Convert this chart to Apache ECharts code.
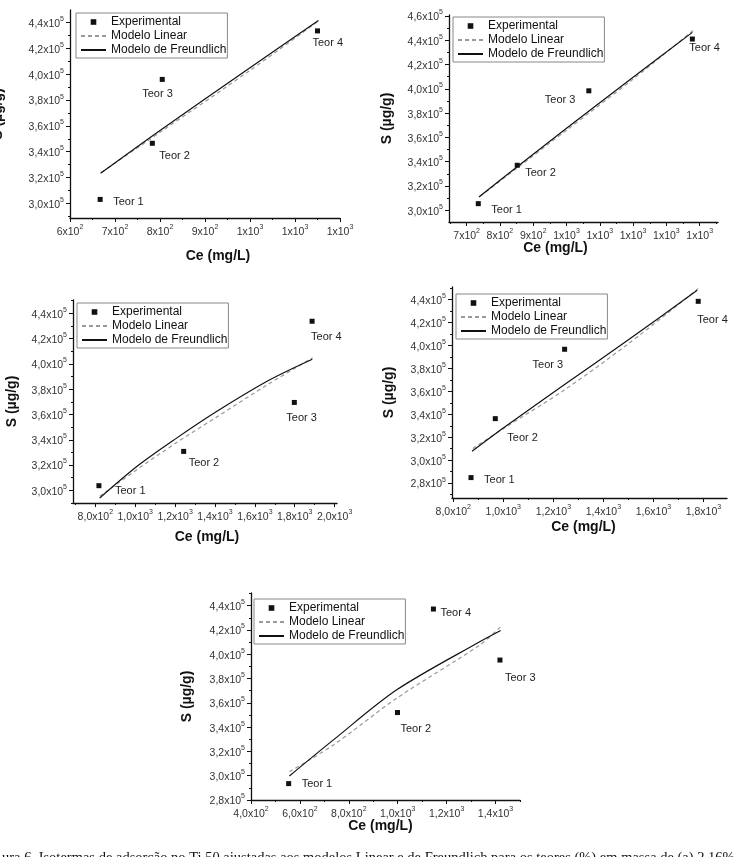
<!DOCTYPE html>
<html>
<head>
<meta charset="utf-8">
<title>Isotermas</title>
<script src="https://cdn.jsdelivr.net/npm/echarts@6/dist/echarts.min.js"></script>
<style>
  html, body { margin: 0; padding: 0; background: #fff; }
  #chart { width: 737px; height: 857px; }
</style>
</head>
<body>
<div id="chart"></div>
<script>
// valores (Ce em mg/L, S em µg/g)
const teorNames = ['Teor 1', 'Teor 2', 'Teor 3', 'Teor 4'];
const seriesNames = ['Experimental', 'Modelo Linear', 'Modelo de Freundlich'];

// painel (a)
const aCe = [667, 783, 805, 1150];
const aS = [303000, 346500, 396000, 433600];
const aLinCe = [670, 800, 1000, 1155];
const aLinS = [324000, 355000, 403000, 442000];
const aFreCe = [668, 800, 1000, 1152];
const aFreS = [323300, 356500, 405000, 441600];
const aXTicks = [600, 700, 800, 900, 1000, 1100, 1200];
const aYTicks = [300000, 320000, 340000, 360000, 380000, 400000, 420000, 440000];

// painel (b)
const bCe = [735, 852, 1067, 1378];
const bS = [305500, 337100, 398400, 441000];
const bLinCe = [740, 850, 1000, 1200, 1380];
const bLinS = [311500, 334500, 366000, 408000, 448000];
const bFreCe = [737, 850, 1000, 1200, 1378];
const bFreS = [311000, 335500, 367500, 409500, 446500];
const bXTicks = [700, 800, 900, 1000, 1100, 1200, 1300, 1400];
const bYTicks = [300000, 320000, 340000, 360000, 380000, 400000, 420000, 440000, 460000];

// painel (c)
const cCe = [818, 1243, 1798, 1887];
const cS = [303700, 330800, 369500, 433700];
const cLinCe = [822, 1008, 1200, 1408, 1675, 1890];
const cLinS = [295300, 316300, 337000, 357900, 384700, 404800];
const cFreCe = [822, 1008, 1200, 1408, 1675, 1888];
const cFreS = [294000, 318900, 340500, 362300, 387400, 403700];
const cXTicks = [800, 1000, 1200, 1400, 1600, 1800, 2000];
const cYTicks = [300000, 320000, 340000, 360000, 380000, 400000, 420000, 440000];

// painel (d)
const dCe = [871, 968, 1245, 1779];
const dS = [284800, 336200, 396700, 438500];
const dLinCe = [878, 1000, 1242, 1500, 1779];
const dLinS = [310100, 327500, 360900, 401500, 449600];
const dFreCe = [875, 1000, 1242, 1500, 1775];
const dFreS = [307700, 328000, 365500, 405000, 448100];
const dXTicks = [800, 1000, 1200, 1400, 1600, 1800];
const dYTicks = [280000, 300000, 320000, 340000, 360000, 380000, 400000, 420000, 440000];

// painel (e)
const eCe = [554, 999, 1418, 1146];
const eS = [293500, 352000, 395200, 437200];
const eLinCe = [557, 737, 996, 1337, 1425];
const eLinS = [303300, 325300, 363800, 407800, 423400];
const eFreCe = [557, 737, 996, 1337, 1421];
const eFreS = [299800, 329500, 370700, 410500, 419600];
const eXTicks = [400, 600, 800, 1000, 1200, 1400];
const eYTicks = [280000, 300000, 320000, 340000, 360000, 380000, 400000, 420000, 440000];

const caption = 'ura 6. Isotermas de adsorção no Ti 50 ajustadas aos modelos Linear e de Freundlich para os teores (%) em massa de (a) 2,16%';

const FONT = '"Liberation Sans", Arial, sans-serif';

// layout de cada painel
const panels = [
  { ce: aCe, s: aS, linCe: aLinCe, linS: aLinS, freCe: aFreCe, freS: aFreS, xTicks: aXTicks, yTicks: aYTicks,
    grid: [70, 10, 270, 208], xRange: [600, 1200], yRange: [288600, 449800], xDec: 0,
    shifts: [[13, 3], [7, 13], [-20, 15], [-5, 12]], legend: [76, 13],
    xNameGap: 31, xNameShift: 13, yNameGap: 65 },
  { ce: bCe, s: bS, linCe: bLinCe, linS: bLinS, freCe: bFreCe, freS: bFreS, xTicks: bXTicks, yTicks: bYTicks,
    grid: [449, 15, 269, 207], xRange: [647, 1455], yRange: [290400, 460800], xDec: 0,
    shifts: [[13, 6], [8, 8], [-44, 9], [-3, 9]], legend: [453, 17],
    xNameGap: 19, xNameShift: -28, yNameGap: 55 },
  { ce: cCe, s: cS, linCe: cLinCe, linS: cLinS, freCe: cFreCe, freS: cFreS, xTicks: cXTicks, yTicks: cYTicks,
    grid: [73, 300, 264, 203], xRange: [688, 2012], yRange: [290000, 450500], xDec: 1,
    shifts: [[16, 5], [5, 12], [-8, 16], [-1, 16]], legend: [77, 303],
    xNameGap: 27, xNameShift: 2, yNameGap: 54 },
  { ce: dCe, s: dS, linCe: dLinCe, linS: dLinS, freCe: dFreCe, freS: dFreS, xTicks: dXTicks, yTicks: dYTicks,
    grid: [452, 287, 275, 211], xRange: [795, 1894], yRange: [267000, 451000], xDec: 1,
    shifts: [[13, 2], [12, 19], [-32, 16], [-1, 19]], legend: [456, 294],
    xNameGap: 22, xNameShift: -6, yNameGap: 56 },
  { ce: eCe, s: eS, linCe: eLinCe, linS: eLinS, freCe: eFreCe, freS: eFreS, xTicks: eXTicks, yTicks: eYTicks,
    grid: [251, 593, 269, 207], xRange: [400, 1500], yRange: [280000, 450400], xDec: 1,
    shifts: [[13, 0], [3, 16], [5, 18], [7, 4]], legend: [254, 599],
    xNameGap: 19, xNameShift: -5, yNameGap: 57 }
];

function sciLabel(v, dec) {
  const e = Math.floor(Math.log10(v) + 1e-9);
  const m = (v / Math.pow(10, e)).toFixed(dec).replace('.', ',');
  return '{m|' + m + 'x10}{e|' + e + '}';
}

// um tick menor entre cada par de ticks maiores
function minorTicks(ticks, range) {
  const step = ticks[1] - ticks[0];
  const out = [];
  for (let v = ticks[0] - step / 2; v <= range[1]; v += step) {
    if (v >= range[0]) out.push(v);
  }
  return out;
}

const labelRich = {
  m: { fontSize: 10.5, lineHeight: 14, verticalAlign: 'bottom', color: '#333', fontFamily: FONT },
  e: { fontSize: 7, lineHeight: 7, verticalAlign: 'top', color: '#333', fontFamily: FONT }
};
const axisLine = { show: true, onZero: false, lineStyle: { color: '#111', width: 1.3 } };

// legenda: só a linha para os modelos, sem o círculo
const legendData = [
  { name: seriesNames[0] },
  { name: seriesNames[1], itemStyle: { opacity: 0 } },
  { name: seriesNames[2], itemStyle: { opacity: 0 } }
];

const option = {
  animation: false,
  backgroundColor: '#fff',
  title: {
    text: caption, left: -3, top: 846,
    textStyle: { fontFamily: '"Liberation Serif", "Times New Roman", serif', fontSize: 14.5, fontWeight: 'normal', color: '#111' }
  },
  grid: [], xAxis: [], yAxis: [], legend: [], series: []
};

panels.forEach(function (p) {
  const gi = option.grid.length;
  option.grid.push({ left: p.grid[0], top: p.grid[1], width: p.grid[2], height: p.grid[3], outerBoundsMode: 'none' });

  const xi = option.xAxis.length;
  const xPad = p.xNameShift >= 0 ? [0, 0, 0, 2 * p.xNameShift] : [0, -2 * p.xNameShift, 0, 0];
  option.xAxis.push({
    type: 'value', gridIndex: gi, position: 'bottom', min: p.xRange[0], max: p.xRange[1],
    name: 'Ce (mg/L)', nameLocation: 'middle', nameGap: p.xNameGap, nameMoveOverlap: false,
    nameTextStyle: { fontFamily: FONT, fontSize: 14, fontWeight: 'bold', color: '#111', padding: xPad },
    axisLine: axisLine, splitLine: { show: false },
    axisTick: { show: true, length: 4, customValues: p.xTicks, lineStyle: { color: '#111' } },
    axisLabel: { margin: 6, customValues: p.xTicks, formatter: function (v) { return sciLabel(v, p.xDec); }, rich: labelRich }
  });
  option.xAxis.push({
    type: 'value', gridIndex: gi, position: 'bottom', min: p.xRange[0], max: p.xRange[1],
    axisLine: { show: false, onZero: false }, splitLine: { show: false }, axisLabel: { show: false },
    axisTick: { show: true, length: 2, customValues: minorTicks(p.xTicks, p.xRange), lineStyle: { color: '#111' } }
  });

  const yi = option.yAxis.length;
  option.yAxis.push({
    type: 'value', gridIndex: gi, position: 'left', min: p.yRange[0], max: p.yRange[1],
    name: 'S (µg/g)', nameLocation: 'middle', nameGap: p.yNameGap, nameMoveOverlap: false,
    nameTextStyle: { fontFamily: FONT, fontSize: 14, fontWeight: 'bold', color: '#111' },
    axisLine: axisLine, splitLine: { show: false },
    axisTick: { show: true, length: 4, customValues: p.yTicks, lineStyle: { color: '#111' } },
    axisLabel: { margin: 6, customValues: p.yTicks, formatter: function (v) { return sciLabel(v, 1); }, rich: labelRich }
  });
  option.yAxis.push({
    type: 'value', gridIndex: gi, position: 'left', min: p.yRange[0], max: p.yRange[1],
    axisLine: { show: false, onZero: false }, splitLine: { show: false }, axisLabel: { show: false },
    axisTick: { show: true, length: 2, customValues: minorTicks(p.yTicks, p.yRange), lineStyle: { color: '#111' } }
  });

  option.legend.push({
    left: p.legend[0], top: p.legend[1], orient: 'vertical', data: legendData,
    itemWidth: 25, itemHeight: 7, itemGap: 2, padding: [3, 1, 2, 4],
    borderColor: '#888', borderWidth: 1, selectedMode: false,
    textStyle: { fontFamily: FONT, fontSize: 12, lineHeight: 12, color: '#111' }
  });

  option.series.push({
    type: 'line', name: 'Experimental', xAxisIndex: xi, yAxisIndex: yi,
    data: p.ce.map(function (c, k) {
      return { value: [c, p.s[k]], name: teorNames[k], label: { offset: p.shifts[k] } };
    }),
    symbol: 'rect', symbolSize: 5, showSymbol: true, z: 5,
    itemStyle: { color: '#111' }, lineStyle: { opacity: 0 },
    label: { show: true, position: 'inside', align: 'left', verticalAlign: 'middle', formatter: '{b}',
      fontFamily: FONT, fontSize: 11, color: '#222' },
    emphasis: { disabled: true }, silent: true
  });
  option.series.push({
    type: 'line', name: 'Modelo Linear', xAxisIndex: xi, yAxisIndex: yi,
    data: p.linCe.map(function (c, k) { return [c, p.linS[k]]; }),
    symbol: 'none', smooth: 0.3, z: 3,
    lineStyle: { color: '#999', width: 1.2, type: [4, 3] },
    itemStyle: { color: '#999' },
    emphasis: { disabled: true }, silent: true
  });
  option.series.push({
    type: 'line', name: 'Modelo de Freundlich', xAxisIndex: xi, yAxisIndex: yi,
    data: p.freCe.map(function (c, k) { return [c, p.freS[k]]; }),
    symbol: 'none', smooth: 0.3, z: 4,
    lineStyle: { color: '#111', width: 1.2 },
    itemStyle: { color: '#111' },
    emphasis: { disabled: true }, silent: true
  });
});

const chart = echarts.init(document.getElementById('chart'));
chart.setOption(option);
window.addEventListener('resize', function () { chart.resize(); });
</script>
</body>
</html>
